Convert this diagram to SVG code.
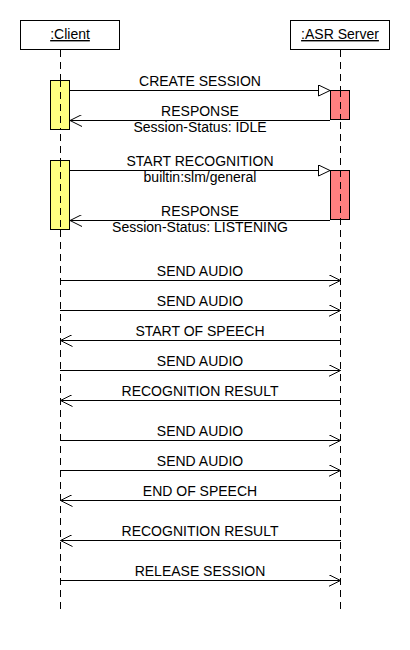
<svg xmlns="http://www.w3.org/2000/svg" width="410" height="650" viewBox="0 0 410 650">
<style>
text{font-family:"Liberation Sans",Arial,sans-serif;font-size:14px;fill:#000;text-anchor:middle}
.box{fill:#fff;stroke:#000;stroke-width:1}
.life{stroke:#000;stroke-width:1;stroke-dasharray:7,5;fill:none}
.cact{fill:#ffff80;stroke:#000;stroke-width:1}
.sact{fill:#ff8080;stroke:#000;stroke-width:1}
.msg{stroke:#000;stroke-width:1;fill:none}
</style>
<defs>
<marker id="open" markerWidth="14" markerHeight="12" refX="12" refY="6" orient="auto" markerUnits="userSpaceOnUse">
<path d="M0,0 L12,6 L0,12" fill="none" stroke="#000" stroke-width="1"/>
</marker>
<marker id="tri" markerWidth="14" markerHeight="12" refX="12" refY="6" orient="auto" markerUnits="userSpaceOnUse">
<path d="M0.5,0.5 L12,6 L0.5,11.5 Z" fill="#fff" stroke="#000" stroke-width="1"/>
</marker>
</defs>
<g id="client">
<rect class="box" x="20.5" y="20.5" width="99" height="29"/>
<text x="70" y="39" text-decoration="underline">:Client</text>
<line class="life" x1="60.5" y1="50" x2="60.5" y2="610"/>
</g>
<g id="server">
<rect class="box" x="290.5" y="20.5" width="99" height="29"/>
<text x="340" y="39" text-decoration="underline">:ASR Server</text>
<line class="life" x1="340.5" y1="50" x2="340.5" y2="610"/>
</g>
<g id="activations">
<rect class="cact" x="50.5" y="80.5" width="19" height="49"/>
<rect class="sact" x="330.5" y="90.5" width="19" height="29"/>
<rect class="cact" x="50.5" y="160.5" width="19" height="69"/>
<rect class="sact" x="330.5" y="170.5" width="19" height="49"/>
<line class="life" x1="60.5" y1="80" x2="60.5" y2="130"/>
<line class="life" x1="340.5" y1="90" x2="340.5" y2="120"/>
<line class="life" x1="60.5" y1="160" x2="60.5" y2="230"/>
<line class="life" x1="340.5" y1="170" x2="340.5" y2="220"/>
</g>
<g id="connectors">
<line class="msg" x1="70" y1="90.5" x2="330" y2="90.5" marker-end="url(#tri)"/>
<line class="msg" x1="330" y1="120.5" x2="70" y2="120.5" marker-end="url(#open)"/>
<line class="msg" x1="70" y1="170.5" x2="330" y2="170.5" marker-end="url(#tri)"/>
<line class="msg" x1="330" y1="220.5" x2="70" y2="220.5" marker-end="url(#open)"/>
<line class="msg" x1="60" y1="280.5" x2="340.5" y2="280.5" marker-end="url(#open)"/>
<line class="msg" x1="60" y1="310.5" x2="340.5" y2="310.5" marker-end="url(#open)"/>
<line class="msg" x1="341" y1="340.5" x2="60.5" y2="340.5" marker-end="url(#open)"/>
<line class="msg" x1="60" y1="370.5" x2="340.5" y2="370.5" marker-end="url(#open)"/>
<line class="msg" x1="341" y1="400.5" x2="60.5" y2="400.5" marker-end="url(#open)"/>
<line class="msg" x1="60" y1="440.5" x2="340.5" y2="440.5" marker-end="url(#open)"/>
<line class="msg" x1="60" y1="470.5" x2="340.5" y2="470.5" marker-end="url(#open)"/>
<line class="msg" x1="341" y1="500.5" x2="60.5" y2="500.5" marker-end="url(#open)"/>
<line class="msg" x1="341" y1="540.5" x2="60.5" y2="540.5" marker-end="url(#open)"/>
<line class="msg" x1="60" y1="580.5" x2="340.5" y2="580.5" marker-end="url(#open)"/>
</g>
<g id="labels">
<text x="200" y="86">CREATE SESSION</text>
<text x="200" y="116">RESPONSE</text>
<text x="200" y="131.5">Session-Status: IDLE</text>
<text x="200" y="166">START RECOGNITION</text>
<text x="200" y="181.5">builtin:slm/general</text>
<text x="200" y="216">RESPONSE</text>
<text x="200" y="231.5">Session-Status: LISTENING</text>
<text x="200" y="276">SEND AUDIO</text>
<text x="200" y="306">SEND AUDIO</text>
<text x="200" y="336">START OF SPEECH</text>
<text x="200" y="366">SEND AUDIO</text>
<text x="200" y="396">RECOGNITION RESULT</text>
<text x="200" y="436">SEND AUDIO</text>
<text x="200" y="466">SEND AUDIO</text>
<text x="200" y="496">END OF SPEECH</text>
<text x="200" y="536">RECOGNITION RESULT</text>
<text x="200" y="576">RELEASE SESSION</text>
</g>
</svg>
